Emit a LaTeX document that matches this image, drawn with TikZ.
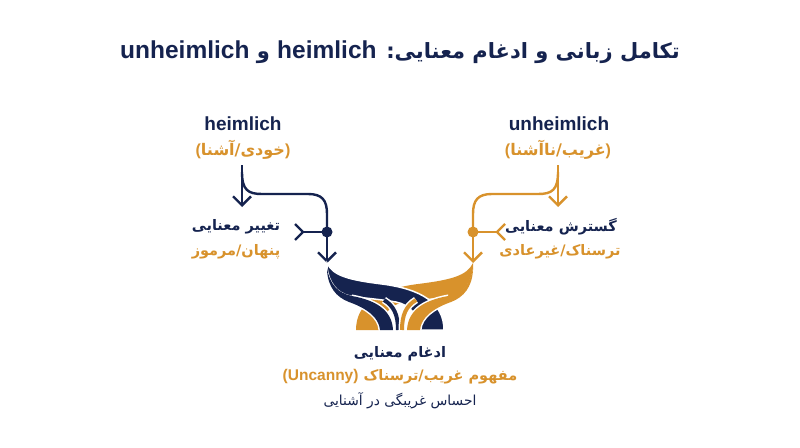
\documentclass[tikz,border=0pt]{standalone}
\usepackage{fontspec}
\usetikzlibrary{arrows.meta}
\TeXXeTstate=1
\newfontfamily\fa[Script=Arabic]{DejaVu Sans}
\newfontfamily\la{Liberation Sans}
\definecolor{navy}{HTML}{15234F}
\definecolor{gold}{HTML}{D8922C}
\newcommand\strandMajor{(327,263) .. controls (333,276) and (350,280) .. (382,284) .. controls (421,289) and (444,303) .. (444,330) -- (418,330) .. controls (418,314) and (410,305) .. (396,302) .. controls (378,299) and (362,298) .. (350,296) .. controls (336,293) and (329,282) .. (327,268) -- cycle}
\newcommand\strandMinor{(327,268) .. controls (330,285) and (338,293) .. (352,296) .. controls (374,300) and (392,309) .. (393,330) -- (380,330) .. controls (379,317) and (366,308) .. (349,302) .. controls (336,297) and (328,287) .. (327,270) -- cycle}
\newcommand\strandThin{(384,300) .. controls (394,306) and (398,315) .. (398,330)}
\begin{document}
\begin{tikzpicture}[x=1pt,y=-1pt,
  conn/.style={line width=2.4pt},
  tipdown/.style={-{Straight Barb[length=9pt,width=18pt]}},
  titletxt/.style={text=navy,font=\fa\bfseries\fontsize{21}{26}\selectfont,inner sep=0pt},
  headtxt/.style={font=\la\bfseries\fontsize{19}{22}\selectfont,inner sep=0pt},
  fatxt/.style={font=\fa\bfseries\fontsize{14.5}{18}\selectfont,inner sep=0pt},
  faregtxt/.style={font=\fa\fontsize{13.8}{17}\selectfont,inner sep=0pt},
  dotst/.style={circle,fill=#1,inner sep=0pt,minimum size=11pt}]
\useasboundingbox (0,0) rectangle (800,447);
\fill[white] (0,0) rectangle (800,447);

% title
\node[titletxt] (title) at (400,52) {\beginR تکامل زبانی و ادغام معنایی\kern0pt: \beginL{\la\fontsize{24.5}{28}\selectfont heimlich}\endL{} و \beginL{\la\fontsize{24.5}{28}\selectfont unheimlich}\endL\endR};

% left head
\node[headtxt,text=navy] (hw) at (243,124) {heimlich};
\node[fatxt,text=gold,font=\fa\bfseries\fontsize{16}{20}\selectfont] (hm) at (243,150) {{\la(}\beginR خودی/آشنا\endR{\la)}};
% right head
\node[headtxt,text=navy] (uw) at (559,124) {unheimlich};
\node[fatxt,text=gold,font=\fa\bfseries\fontsize{16}{20}\selectfont] (um) at (558,150) {{\la(}\beginR غریب/ناآشنا\endR{\la)}};

% branch labels
\node[fatxt,text=navy] (lch) at (236,227) {\beginR تغییر معنایی\endR};
\node[fatxt,text=gold] (lchm) at (236,252) {\beginR پنهان/مرموز\endR};
\node[fatxt,text=navy] (rch) at (561,227) {\beginR گسترش معنایی\endR};
\node[fatxt,text=gold] (rchm) at (560,252) {\beginR ترسناک/غیرعادی\endR};

% bottom labels
\node[fatxt,text=navy] (mg) at (400,354) {\beginR ادغام معنایی\endR};
\node[fatxt,text=gold] (mgm) at (400,377) {\beginR مفهوم غریب/ترسناک \beginL{\la\fontsize{15.5}{18}\selectfont (Uncanny)}\endL\endR};
\node[faregtxt,text=navy] (mgs) at (400,401) {\beginR احساس غریبگی در آشنایی\endR};

% left connectors
\coordinate (hLtop) at (242,165);
\coordinate (hLtip) at (242,207);
\coordinate (brL) at (242,172);
\coordinate (aLtip) at (327,263);
\coordinate (fkL) at (303,232);
\coordinate (fkLa) at (295,224);
\coordinate (fkLb) at (295,240);
\draw[conn,navy,tipdown] (hLtop) -- (hLtip);
\draw[conn,navy] (brL) .. controls (242,190) and (248,194) .. (262,194) -- (308,194) .. controls (322,194) and (327,200) .. (327,214) -- (327,232) coordinate (dLc);
\draw[conn,navy,tipdown] (dLc) -- (aLtip);
\draw[conn,navy] (dLc) -- (fkL);
\draw[conn,navy,line join=miter] (fkLa) -- (fkL) -- (fkLb);
\node[dotst=navy] (dotL) at (dLc) {};

% right connectors
\coordinate (hRtop) at (558,165);
\coordinate (hRtip) at (558,207);
\coordinate (brR) at (558,172);
\coordinate (aRtip) at (473,263);
\coordinate (fkR) at (497,232);
\coordinate (fkRa) at (505,224);
\coordinate (fkRb) at (505,240);
\draw[conn,gold,tipdown] (hRtop) -- (hRtip);
\draw[conn,gold] (brR) .. controls (558,190) and (552,194) .. (538,194) -- (492,194) .. controls (478,194) and (473,200) .. (473,214) -- (473,232) coordinate (dRc);
\draw[conn,gold,tipdown] (dRc) -- (aRtip);
\draw[conn,gold] (dRc) -- (fkR);
\draw[conn,gold,line join=miter] (fkRa) -- (fkR) -- (fkRb);
\node[dotst=gold] (dotR) at (dRc) {};

% braid
\begin{scope}[shift={(800,0)},xscale=-1]
  \fill[gold] \strandMajor;
\end{scope}
\filldraw[fill=navy,draw=white,line width=1.5pt] \strandMajor;
\draw[white,line width=7pt] \strandThin;
\draw[navy,line width=4pt] \strandThin;
\begin{scope}[shift={(800,0)},xscale=-1]
  \draw[white,line width=7pt] \strandThin;
  \draw[gold,line width=4pt] \strandThin;
\end{scope}
\begin{scope}
  \clip (352,0) rectangle (800,447);
  \draw[white,line width=3pt] \strandMinor;
\end{scope}
\fill[navy] \strandMinor;
\begin{scope}[shift={(800,0)},xscale=-1]
  \begin{scope}
    \clip (352,0) rectangle (800,447);
    \draw[white,line width=3pt] \strandMinor;
  \end{scope}
  \fill[gold] \strandMinor;
\end{scope}
\end{tikzpicture}
\end{document}
